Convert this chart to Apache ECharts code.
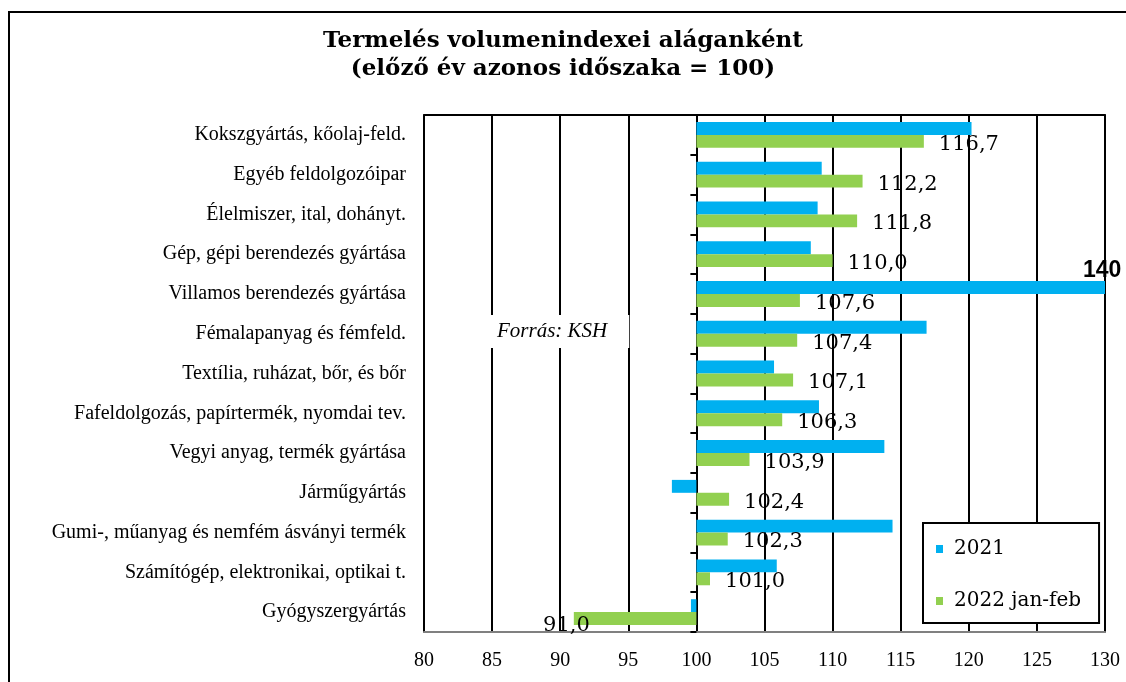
<!DOCTYPE html>
<html>
<head>
<meta charset="utf-8">
<script src="https://cdn.jsdelivr.net/npm/echarts@6/dist/echarts.min.js"></script>
<style>
  html, body { margin: 0; padding: 0; background: #fff; }
  #chart { width: 1126px; height: 682px; }
</style>
</head>
<body>
<div id="chart"></div>
<script>
// ágazatok, felülről lefelé
const categories = [
  'Kokszgyártás, kőolaj-feld.',
  'Egyéb feldolgozóipar',
  'Élelmiszer, ital, dohányt.',
  'Gép, gépi berendezés gyártása',
  'Villamos berendezés gyártása',
  'Fémalapanyag és fémfeld.',
  'Textília, ruházat, bőr, és bőr',
  'Fafeldolgozás, papírtermék, nyomdai tev.',
  'Vegyi anyag, termék gyártása',
  'Járműgyártás',
  'Gumi-, műanyag és nemfém ásványi termék',
  'Számítógép, elektronikai, optikai t.',
  'Gyógyszergyártás'
];
const values2021 = [120.2, 109.2, 108.9, 108.4, 140, 116.9, 105.7, 109.0, 113.8, 98.2, 114.4, 105.9, 99.6];
const values2022 = [116.7, 112.2, 111.8, 110.0, 107.6, 107.4, 107.1, 106.3, 103.9, 102.4, 102.3, 101.0, 91.0];
const xTicks = [80, 85, 90, 95, 100, 105, 110, 115, 120, 125, 130];
const BASE = 100; // előző év = 100, a rudak innen indulnak

const chart = echarts.init(document.getElementById('chart'));

const fmt = v => v.toFixed(1).replace('.', ',');

const blueData = values2021.map((v, i) => {
  const item = { value: v - BASE };
  if (v > xTicks[xTicks.length - 1]) {
    // levágott rúd, a valódi érték felirata a végén
    item.label = {
      show: true,
      position: 'right',
      offset: [-27, -17],
      formatter: String(v),
      fontFamily: 'Liberation Sans',
      fontWeight: 'bold',
      fontSize: 23,
      color: '#000'
    };
  }
  return item;
});

const greenData = values2022.map((v, i) => {
  const item = { value: v - BASE };
  if (v < BASE) {
    item.label = { position: 'left', offset: [31, 7] };
  }
  return item;
});

chart.setOption({
  animation: false,
  title: {
    text: 'Termelés volumenindexei aláganként\n(előző év azonos időszaka = 100)',
    left: 'center',
    top: 22,
    textStyle: {
      fontFamily: 'DejaVu Serif',
      fontWeight: 'bold',
      fontSize: 23,
      lineHeight: 28,
      color: '#000'
    }
  },
  legend: {
    orient: 'vertical',
    left: 923,
    top: 523,
    padding: [16, 18, 12, 13],
    itemGap: 32,
    itemWidth: 7,
    itemHeight: 8,
    icon: 'rect',
    backgroundColor: '#fff',
    borderColor: '#000',
    borderWidth: 2,
    borderRadius: 0,
    textStyle: {
      fontFamily: 'DejaVu Serif',
      fontSize: 20,
      color: '#000',
      padding: [0, 0, 0, 6]
    }
  },
  grid: {
    left: 424,
    right: 21,
    top: 115,
    bottom: 50,
    show: true,
    borderColor: '#808080',
    borderWidth: 2,
    containLabel: false
  },
  xAxis: [
    {
      type: 'value',
      min: xTicks[0] - BASE,
      max: xTicks[xTicks.length - 1] - BASE,
      interval: 5,
      axisLine: { show: true, lineStyle: { color: '#808080', width: 2 } },
      axisTick: { show: false },
      splitLine: { show: true, lineStyle: { color: '#000', width: 2 } },
      axisLabel: {
        formatter: v => String(v + BASE),
        fontFamily: 'Liberation Serif',
        fontSize: 20,
        color: '#000',
        margin: 19
      }
    },
    {
      type: 'value',
      position: 'top',
      min: xTicks[0] - BASE,
      max: xTicks[xTicks.length - 1] - BASE,
      interval: 5,
      axisLine: { show: true, lineStyle: { color: '#000', width: 2 } },
      axisTick: { show: false },
      axisLabel: { show: false },
      splitLine: { show: false }
    }
  ],
  yAxis: [
    {
      type: 'category',
      data: categories,
      inverse: true,
      axisLine: { show: false, onZero: false },
      axisTick: { show: false },
      axisLabel: {
        fontFamily: 'Liberation Serif',
        fontSize: 20,
        color: '#000',
        margin: 18
      }
    },
    {
      type: 'category',
      data: categories,
      inverse: true,
      axisLine: { show: true, onZero: true, onZeroAxisIndex: 0, lineStyle: { color: '#000', width: 2 } },
      axisTick: { show: true, inside: true, length: 6, lineStyle: { color: '#000', width: 2 } },
      axisLabel: { show: false }
    }
  ],
  graphic: [
    {
      type: 'rect',
      z: 0,
      silent: true,
      shape: { x: 9, y: 12, width: 1300, height: 900 },
      style: { fill: 'none', stroke: '#000', lineWidth: 2 }
    },
    {
      type: 'text',
      z: 100,
      left: 485,
      top: 315,
      style: {
        text: 'Forrás: KSH',
        font: 'italic 21px "Liberation Serif"',
        fill: '#000',
        backgroundColor: '#fff',
        padding: [6, 22, 6, 12]
      }
    }
  ],
  series: [
    {
      name: '2021',
      type: 'bar',
      xAxisIndex: 0,
      yAxisIndex: 0,
      data: blueData,
      itemStyle: { color: '#00B0F0' },
      barGap: '0%',
      barCategoryGap: '35%',
      clip: true
    },
    {
      name: '2022 jan-feb',
      type: 'bar',
      xAxisIndex: 0,
      yAxisIndex: 0,
      data: greenData,
      itemStyle: { color: '#92D050' },
      barGap: '0%',
      barCategoryGap: '35%',
      label: {
        show: true,
        position: 'right',
        distance: 15,
        offset: [0, 3],
        formatter: p => fmt(values2022[p.dataIndex]),
        fontFamily: 'DejaVu Serif',
        fontSize: 21,
        color: '#000'
      }
    }
  ]
});
</script>
</body>
</html>
